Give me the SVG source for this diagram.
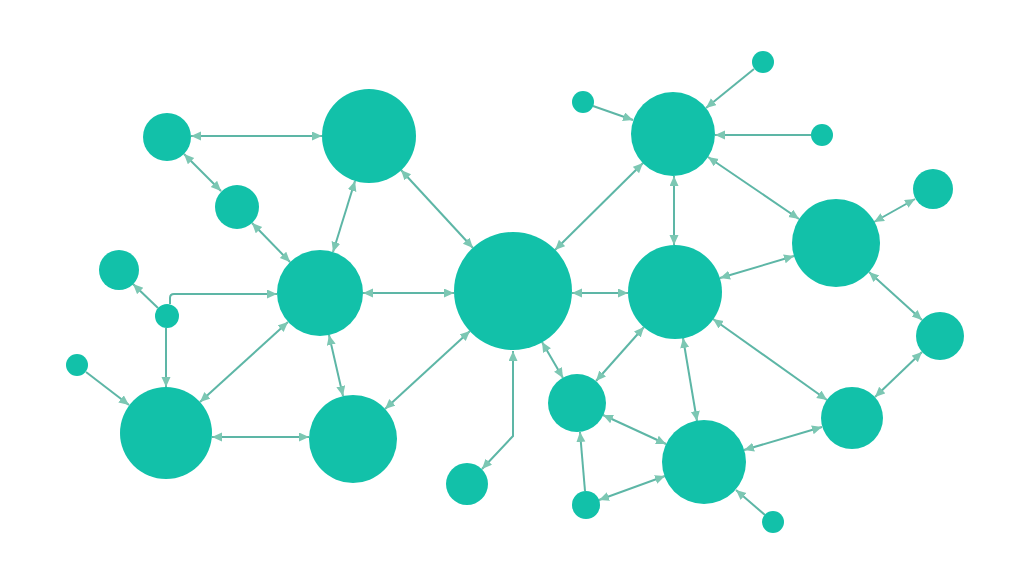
<svg xmlns="http://www.w3.org/2000/svg" width="1024" height="576" viewBox="0 0 1024 576">
<style>
.n{fill:#12c1a9}
.c line,.c path{stroke:#5db6a6;stroke-width:2;fill:none}
.b{marker-start:url(#a);marker-end:url(#a)}
.e{marker-end:url(#a)}
</style>
<defs>
<marker id="a" markerUnits="userSpaceOnUse" markerWidth="11" markerHeight="10" refX="10" refY="4.5" orient="auto-start-reverse">
<path d="M0,0 L10,4.5 L0,9 z" fill="#7cc7b3"/>
</marker>
</defs>
<rect width="1024" height="576" fill="#fff"/>
<g class="c" id="connectors">
<line class="b" x1="191" y1="136" x2="322" y2="136"/>
<line class="b" x1="184" y1="154" x2="221" y2="191"/>
<line class="b" x1="252" y1="223" x2="290" y2="262"/>
<line class="b" x1="355" y1="181" x2="333" y2="252"/>
<line class="b" x1="401" y1="170" x2="473" y2="248"/>
<line class="b" x1="363" y1="293" x2="454" y2="293"/>
<line class="e" x1="158" y1="308" x2="133" y2="284"/>
<path class="e" d="M170,304 V298 Q170,294 174,294 H277"/>
<line class="e" x1="166" y1="328" x2="166" y2="387"/>
<line class="e" x1="86" y1="372" x2="129" y2="405"/>
<line class="b" x1="200" y1="402" x2="288" y2="322"/>
<line class="b" x1="212" y1="437" x2="309" y2="437"/>
<line class="b" x1="329" y1="335" x2="343" y2="396"/>
<line class="b" x1="385" y1="409" x2="470" y2="331"/>
<path class="b" d="M482,469 L513,436 V351"/>
<line class="b" x1="555" y1="250" x2="643" y2="163"/>
<line class="b" x1="572" y1="293" x2="628" y2="293"/>
<line class="b" x1="542" y1="342" x2="563" y2="378"/>
<line class="e" x1="593" y1="106" x2="633" y2="120"/>
<line class="e" x1="754" y1="69" x2="706" y2="108"/>
<line class="e" x1="811" y1="135" x2="715" y2="135"/>
<line class="b" x1="674" y1="176" x2="674" y2="245"/>
<line class="b" x1="708" y1="157" x2="799" y2="219"/>
<line class="b" x1="915" y1="199" x2="874" y2="222"/>
<line class="b" x1="794" y1="256" x2="720" y2="278"/>
<line class="b" x1="869" y1="272" x2="922" y2="320"/>
<line class="b" x1="644" y1="327" x2="596" y2="381"/>
<line class="b" x1="713" y1="319" x2="827" y2="400"/>
<line class="b" x1="922" y1="352" x2="875" y2="397"/>
<line class="b" x1="683" y1="338" x2="697" y2="421"/>
<line class="b" x1="603" y1="415" x2="666" y2="444"/>
<line class="e" x1="585" y1="491" x2="580" y2="432"/>
<line class="b" x1="599" y1="500" x2="665" y2="476"/>
<line class="b" x1="822" y1="427" x2="744" y2="450"/>
<line class="e" x1="765" y1="515" x2="736" y2="490"/>
</g>
<g id="n1"><circle class="n" cx="167" cy="137" r="24"/></g>
<g id="n2"><circle class="n" cx="369" cy="136" r="47"/></g>
<g id="n3"><circle class="n" cx="237" cy="207" r="22"/></g>
<g id="n4"><circle class="n" cx="119" cy="270" r="20"/></g>
<g id="n5"><circle class="n" cx="320" cy="293" r="43"/></g>
<g id="n6"><circle class="n" cx="167" cy="316" r="12"/></g>
<g id="n7"><circle class="n" cx="77" cy="365" r="11"/></g>
<g id="n8"><circle class="n" cx="166" cy="433" r="46"/></g>
<g id="n9"><circle class="n" cx="353" cy="439" r="44"/></g>
<g id="n10"><circle class="n" cx="513" cy="291" r="59"/></g>
<g id="n11"><circle class="n" cx="467" cy="484" r="21"/></g>
<g id="n12"><circle class="n" cx="673" cy="134" r="42"/></g>
<g id="n13"><circle class="n" cx="583" cy="102" r="11"/></g>
<g id="n14"><circle class="n" cx="763" cy="62" r="11"/></g>
<g id="n15"><circle class="n" cx="822" cy="135" r="11"/></g>
<g id="n16"><circle class="n" cx="933" cy="189" r="20"/></g>
<g id="n17"><circle class="n" cx="836" cy="243" r="44"/></g>
<g id="n18"><circle class="n" cx="675" cy="292" r="47"/></g>
<g id="n19"><circle class="n" cx="940" cy="336" r="24"/></g>
<g id="n20"><circle class="n" cx="577" cy="403" r="29"/></g>
<g id="n21"><circle class="n" cx="852" cy="418" r="31"/></g>
<g id="n22"><circle class="n" cx="704" cy="462" r="42"/></g>
<g id="n23"><circle class="n" cx="586" cy="505" r="14"/></g>
<g id="n24"><circle class="n" cx="773" cy="522" r="11"/></g>
</svg>
